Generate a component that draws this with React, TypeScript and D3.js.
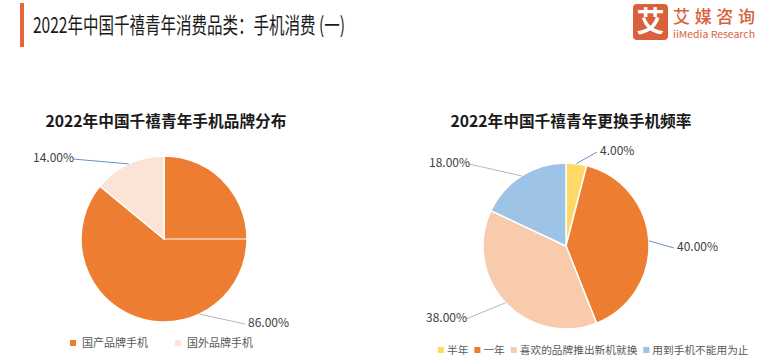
import React, { useRef, useEffect } from "react";
import * as d3 from "d3";

// left pie: brand distribution
const brandNames = ["国产品牌手机", "国外品牌手机"];
const brandValues = [86, 14];
const brandColors = ["#ED7D31", "#FBE3D6"];
const brandLabelPos = [
  [248, 322],
  [33, 157],
];
const brandLineColors = ["#A6A6A6", "#4472C4"];

// right pie: replacement frequency
const freqNames = ["半年", "一年", "喜欢的品牌推出新机就换", "用到手机不能用为止"];
const freqValues = [4, 40, 38, 18];
const freqColors = ["#FFD966", "#ED7D31", "#F8CBAD", "#9DC3E6"];
const freqLabelPos = [
  [600, 150],
  [677, 246],
  [426, 317],
  [429, 162],
];
const freqLineColors = ["#4472C4", "#4472C4", "#A6A6A6", "#A6A6A6"];

const FONT = "'Noto Sans CJK SC', 'Noto Sans', sans-serif";

const App = () => {
  const svgRef = useRef(null);

  useEffect(() => {
    const svg = d3.select(svgRef.current);
    svg.selectAll("*").remove();

    // header
    svg.append("rect").attr("x", 20).attr("y", 3).attr("width", 4).attr("height", 44).attr("fill", "#E8643A");
    svg
      .append("text")
      .attr("x", 33)
      .attr("y", 33)
      .attr("font-family", FONT)
      .attr("font-size", 22)
      .attr("fill", "#1a1a1a")
      .attr("textLength", 312)
      .attr("lengthAdjust", "spacingAndGlyphs")
      .text("2022年中国千禧青年消费品类：手机消费 (一)");

    // logo
    svg.append("rect").attr("x", 633).attr("y", 4).attr("width", 35).attr("height", 36).attr("rx", 4).attr("fill", "#D9603B");
    svg
      .append("text")
      .attr("x", 650.5)
      .attr("y", 32)
      .attr("text-anchor", "middle")
      .attr("font-family", FONT)
      .attr("font-weight", "bold")
      .attr("font-size", 28)
      .attr("fill", "#fff")
      .text("艾");
    svg
      .append("text")
      .attr("x", 673)
      .attr("y", 23)
      .attr("font-family", FONT)
      .attr("font-weight", 500)
      .attr("font-size", 17)
      .attr("fill", "#D9603B")
      .attr("textLength", 82)
      .text("艾媒咨询");
    svg
      .append("text")
      .attr("x", 673)
      .attr("y", 38)
      .attr("font-family", FONT)
      .attr("font-size", 9.5)
      .attr("fill", "#D9603B")
      .attr("textLength", 82)
      .attr("lengthAdjust", "spacingAndGlyphs")
      .text("iiMedia Research");

    const drawPie = (opts) => {
      const { cx, cy, r, title, titleX, names, values, colors, labelPos, lineColors, legendX, legendY, legendFont, swatchGap, itemGap } = opts;
      svg
        .append("text")
        .attr("x", titleX)
        .attr("y", 127)
        .attr("text-anchor", "middle")
        .attr("font-family", FONT)
        .attr("font-weight", "bold")
        .attr("font-size", 15.7)
        .attr("fill", "#1a1a1a")
        .text(title);

      const pie = d3.pie().sort(null).value((d) => d);
      const arcs = pie(values);
      const arc = d3.arc().innerRadius(0).outerRadius(r);
      const edge = d3.arc().innerRadius(r).outerRadius(r);
      const g = svg.append("g").attr("transform", `translate(${cx},${cy})`);

      g.selectAll("path")
        .data(arcs)
        .enter()
        .append("path")
        .attr("d", arc)
        .attr("fill", (d, i) => colors[i])
        .attr("stroke", "#ffffff")
        .attr("stroke-width", 1.5);

      arcs.forEach((d, i) => {
        const [sx, sy] = edge.centroid(d);
        const [lx, ly] = labelPos[i];
        const tx = lx - cx;
        const endX = tx > sx ? tx - 3 : tx + 40;
        svg
          .append("line")
          .attr("x1", cx + sx)
          .attr("y1", cy + sy)
          .attr("x2", cx + endX)
          .attr("y2", ly + 2)
          .attr("stroke", lineColors[i])
          .attr("stroke-width", 0.8);
        svg
          .append("text")
          .attr("x", lx)
          .attr("y", ly + 5)
          .attr("font-family", FONT)
          .attr("font-size", 12)
          .attr("fill", "#404040")
          .text(`${values[i].toFixed(2)}%`);
      });

      // legend
      let x = legendX;
      names.forEach((n, i) => {
        svg.append("rect").attr("x", x).attr("y", legendY - 3).attr("width", 6).attr("height", 6).attr("fill", colors[i]);
        const t = svg
          .append("text")
          .attr("x", x + swatchGap)
          .attr("y", legendY + 4)
          .attr("font-family", FONT)
          .attr("font-size", legendFont)
          .attr("fill", "#595959")
          .text(n);
        x += swatchGap + t.node().getComputedTextLength() + itemGap;
      });
      return g;
    };

    const left = drawPie({
      cx: 164,
      cy: 239,
      r: 83,
      title: "2022年中国千禧青年手机品牌分布",
      titleX: 166,
      names: brandNames,
      values: brandValues,
      colors: brandColors,
      labelPos: brandLabelPos,
      lineColors: brandLineColors,
      legendX: 70,
      legendY: 343,
      legendFont: 11,
      swatchGap: 12,
      itemGap: 27,
    });
    // faint seam on the right of the brand pie
    const seam = d3.pointRadial(Math.PI / 2, 83);
    left
      .append("line")
      .attr("x1", 0)
      .attr("y1", 0)
      .attr("x2", seam[0])
      .attr("y2", seam[1])
      .attr("stroke", "#ffffff")
      .attr("stroke-width", 1);

    drawPie({
      cx: 566,
      cy: 246,
      r: 83,
      title: "2022年中国千禧青年更换手机频率",
      titleX: 571,
      names: freqNames,
      values: freqValues,
      colors: freqColors,
      labelPos: freqLabelPos,
      lineColors: freqLineColors,
      legendX: 438,
      legendY: 350,
      legendFont: 10.7,
      swatchGap: 9,
      itemGap: 6,
    });
  }, []);

  return (
    <svg
      ref={svgRef}
      width={770}
      height={360}
      style={{ position: "absolute", left: 0, top: 0, background: "#fff" }}
    />
  );
};

export default App;
